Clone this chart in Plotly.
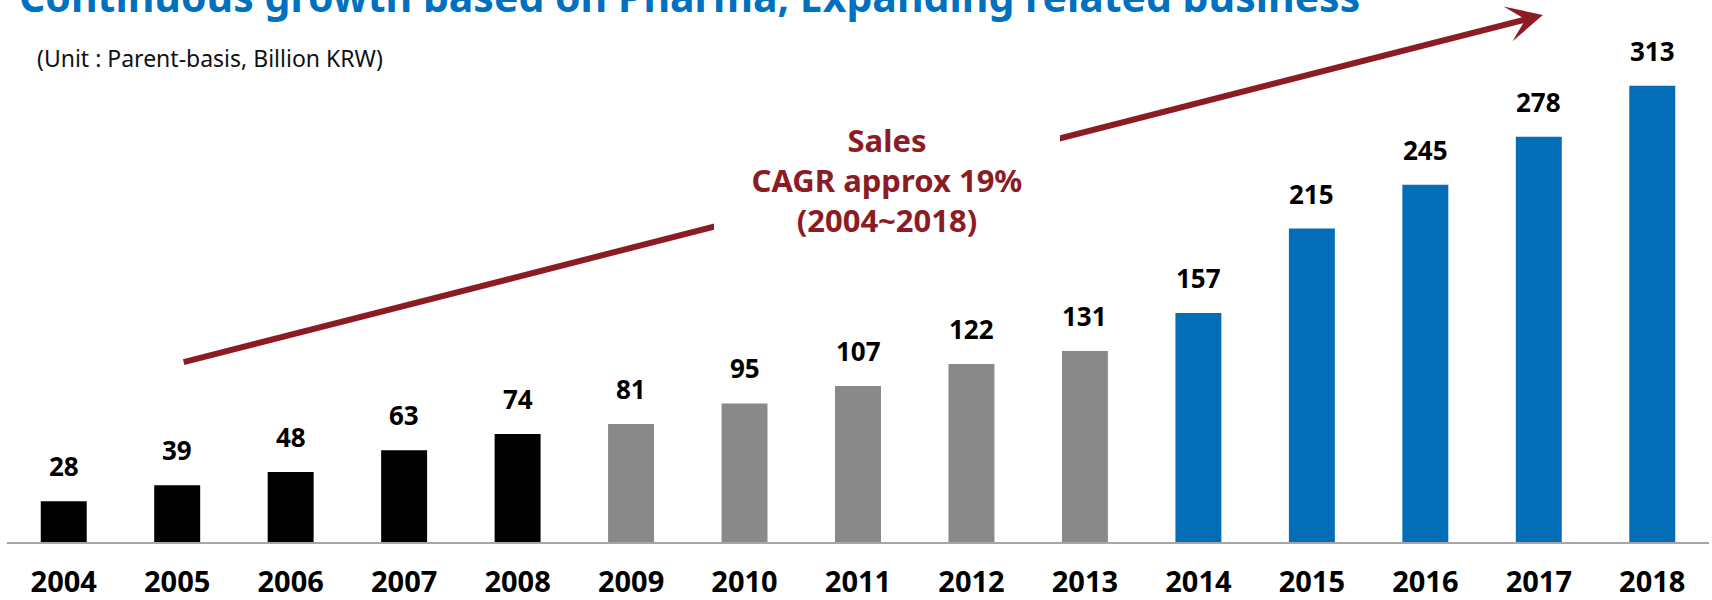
import plotly.graph_objects as go

# ---- data ----
years = ["2004", "2005", "2006", "2007", "2008", "2009", "2010", "2011",
         "2012", "2013", "2014", "2015", "2016", "2017", "2018"]
sales = [28, 39, 48, 63, 74, 81, 95, 107, 122, 131, 157, 215, 245, 278, 313]
period_colors = ["#000000"] * 5 + ["#898989"] * 5 + ["#036EB7"] * 5

title_text = "Continuous growth based on Pharma, Expanding related business"
unit_text = "(Unit : Parent-basis, Billion KRW)"
cagr_text = "Sales<br>CAGR approx 19%<br>(2004~2018)"

FONT = "Noto Sans"
RED = "#8C1C24"
BLUE = "#0070C0"

fig = go.Figure()
fig.add_trace(go.Bar(
    x=years, y=sales,
    marker=dict(color=period_colors, line=dict(width=0)),
    showlegend=False, hoverinfo="x+y",
))

annotations = []
# value labels above bars (x given as category index)
for i, v in enumerate(sales):
    annotations.append(dict(
        x=i, y=v, xref="x", yref="y", text=f"<b>{v}</b>", showarrow=False,
        yanchor="middle", yshift=35,
        font=dict(family=FONT, size=26, color="#000000"),
    ))

# title (partly cut off at top, as in the reference)
annotations.append(dict(
    x=0.006, y=1.007, xref="paper", yref="paper", xanchor="left", yanchor="middle",
    text=f"<b>{title_text}</b>", showarrow=False,
    font=dict(family=FONT, size=41, color=BLUE),
))
# unit text
annotations.append(dict(
    x=0.0163, y=0.8939, xref="paper", yref="paper", xanchor="left", yanchor="middle",
    text=unit_text, showarrow=False,
    font=dict(family=FONT, size=23, color="#111111"),
))
# growth arrow
annotations.append(dict(
    x=0.9024, y=0.9723, xref="paper", yref="paper",
    ax=-1360.7, ay=347.5, axref="pixel", ayref="pixel",
    text="", showarrow=True, arrowhead=3, arrowsize=1.0, arrowwidth=6,
    arrowcolor=RED, standoff=0,
))
# CAGR text with white box covering the arrow's middle
annotations.append(dict(
    x=0.5169, y=0.6676, xref="paper", yref="paper", xanchor="center", yanchor="middle",
    text=f"<b>{cagr_text}</b>", showarrow=False,
    width=344, height=140, bgcolor="#FFFFFF", borderwidth=0,
    font=dict(family=FONT, size=31, color=RED),
))

fig.update_layout(
    width=1712, height=600,
    margin=dict(l=7, r=3, t=0, b=58, autoexpand=False),
    paper_bgcolor="#FFFFFF", plot_bgcolor="#FFFFFF",
    bargap=0.595,
    annotations=annotations,
    xaxis=dict(
        type="category", range=[-0.5, 14.5], automargin=False,
        showline=True, linecolor="#A6A6A6", linewidth=2,
        showgrid=False, zeroline=False, ticks="",
        ticklabelstandoff=13,
        tickfont=dict(family=FONT, size=29, color="#000000", weight="bold"),
    ),
    yaxis=dict(
        range=[0, 542 / 1.458], visible=False, automargin=False,
        showgrid=False, zeroline=False,
    ),
)

fig.write_html("out.html", config={"displayModeBar": False},
               post_script="document.body.style.margin='0px';")
